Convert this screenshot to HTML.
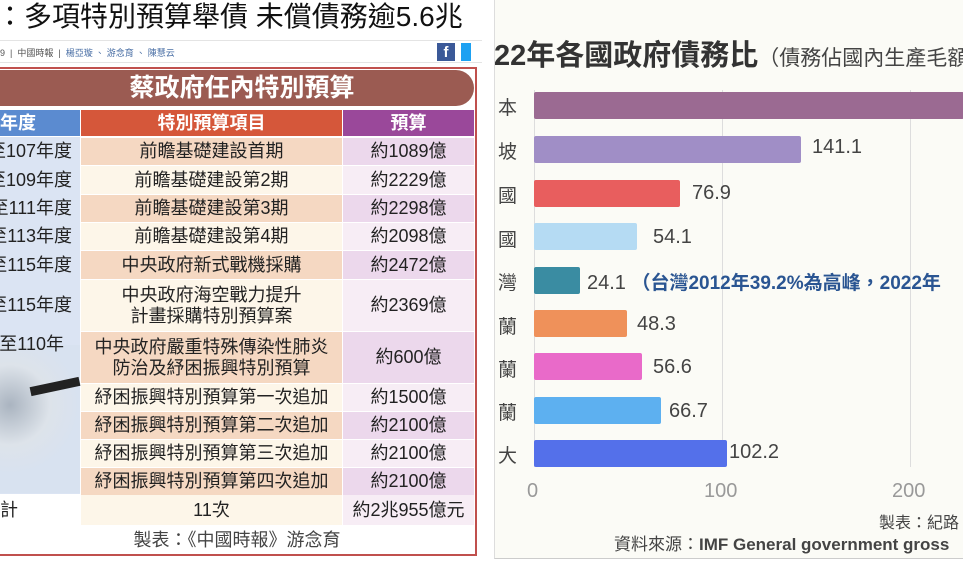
<!DOCTYPE html>
<html><head><meta charset="utf-8"><style>
*{margin:0;padding:0;box-sizing:border-box}
body{width:963px;height:578px;background:#fff;position:relative;overflow:hidden;font-family:"Liberation Sans","Noto Sans CJK TC",sans-serif;color:#222}
.a{position:absolute}
.c{position:absolute;display:flex;align-items:center;justify-content:center;text-align:center;font-size:18px;line-height:21px;color:#222;white-space:nowrap;overflow:hidden}
.lab{position:absolute;font-size:19px;color:#444;left:498px;width:24px}
.bar{position:absolute;left:534px;height:27px;border-radius:2px}
.val{position:absolute;font-size:20px;color:#444}
</style></head><body>
<div class="a" style="left:-4px;top:0;font-size:28px;white-space:nowrap;color:#111;line-height:34px">：多項特別預算舉債 未償債務逾5.6兆</div>
<div class="a" style="left:0;top:40px;width:482px;height:1px;background:#e4e4e4"></div>
<div class="a" style="left:0;top:46px;font-size:9px;color:#555;white-space:nowrap">9 &nbsp;|&nbsp; 中國時報 &nbsp;|&nbsp; <span style="color:#4a6fa5">楊亞璇 、 游念育 、 陳慧云</span></div>
<div class="a" style="left:437px;top:43px;width:18px;height:18px;background:#3b5998;color:#fff;font-size:15px;font-weight:bold;text-align:center;line-height:20px">f</div>
<div class="a" style="left:461px;top:43px;width:10px;height:18px;background:#1da1f2"></div>
<div class="a" style="left:0;top:62px;width:482px;height:1px;background:#e4e4e4"></div>
<div class="a" style="left:0;top:67px;width:477px;height:489px;border:2px solid #c0504d;border-left:none"></div>
<div class="a" style="left:0;top:70px;width:474px;height:36px;background:#9b5b52;border-radius:0 18px 18px 0;color:#fff;font-size:25px;font-weight:bold;text-align:center;line-height:36px;padding-left:10px">蔡政府任內特別預算</div>
<div class="c" style="left:0;top:110px;width:80px;height:26px;background:#5b8bd0;color:#fff;font-weight:bold;justify-content:flex-start;padding-left:0">年度</div>
<div class="c" style="left:81px;top:110px;width:261px;height:26px;background:#d5573a;color:#fff;font-weight:bold">特別預算項目</div>
<div class="c" style="left:343px;top:110px;width:131px;height:26px;background:#9a489a;color:#fff;font-weight:bold">預算</div>
<div class="a" style="left:0;top:137px;width:80px;height:357px;background:#dbe4f3"></div>
<div class="a" style="left:0;top:345px;width:80px;height:148px;background:radial-gradient(circle at 10px 60px,#aab4c0 0,#dde3ea 40px,#d8e2f0 70px)"></div>
<div class="a" style="left:30px;top:382px;width:50px;height:9px;background:#222;transform:rotate(-12deg)"></div>
<div id="rows"></div>
<div class="c" style="left:0;top:526px;width:474px;height:28px;color:#444">製表：《中國時報》游念育</div>
<div class="a" style="left:494px;top:0;width:469px;height:559px;background:#fbfbf6;border-left:1px solid #ddd;border-bottom:1px solid #ccc"></div>
<div class="a" style="left:494px;top:32px;white-space:nowrap;font-size:29px;font-weight:bold;color:#333">22年各國政府債務比<span style="font-size:21px;font-weight:normal;color:#444">（債務佔國內生產毛額</span></div>
<div class="a" style="left:534px;top:90px;width:1px;height:377px;background:#ddd"></div>
<div class="a" style="left:722px;top:90px;width:1px;height:377px;background:#ddd"></div>
<div class="a" style="left:910px;top:90px;width:1px;height:377px;background:#ddd"></div>
<div class="bar" style="top:92px;width:430px;background:#9b6a92"></div>
<div class="bar" style="top:136px;width:267px;background:#a08ec6"></div>
<div class="bar" style="top:180px;width:146px;background:#e85e5e"></div>
<div class="bar" style="top:223px;width:103px;background:#b5dbf3"></div>
<div class="bar" style="top:267px;width:46px;background:#3a8ca2"></div>
<div class="bar" style="top:310px;width:93px;background:#ef915a"></div>
<div class="bar" style="top:353px;width:108px;background:#e96ac9"></div>
<div class="bar" style="top:397px;width:127px;background:#5db0f0"></div>
<div class="bar" style="top:440px;width:193px;background:#5470ea"></div>
<div class="lab" style="top:93px">本</div>
<div class="lab" style="top:137px">坡</div>
<div class="lab" style="top:181px">國</div>
<div class="lab" style="top:225px">國</div>
<div class="lab" style="top:268px">灣</div>
<div class="lab" style="top:312px">蘭</div>
<div class="lab" style="top:355px">蘭</div>
<div class="lab" style="top:398px">蘭</div>
<div class="lab" style="top:441px">大</div>
<div class="val" style="left:812px;top:136px">141.1</div>
<div class="val" style="left:692px;top:182px">76.9</div>
<div class="val" style="left:653px;top:226px">54.1</div>
<div class="val" style="left:587px;top:268px;white-space:nowrap">24.1 <b style="color:#2a5592;font-size:19px">（台灣2012年39.2%為高峰，2022年</b></div>
<div class="val" style="left:637px;top:313px">48.3</div>
<div class="val" style="left:653px;top:356px">56.6</div>
<div class="val" style="left:669px;top:400px">66.7</div>
<div class="val" style="left:729px;top:441px">102.2</div>
<div class="a" style="left:527px;top:480px;font-size:20px;color:#999">0</div>
<div class="a" style="left:704px;top:480px;font-size:20px;color:#999">100</div>
<div class="a" style="left:892px;top:480px;font-size:20px;color:#999">200</div>
<div class="a" style="left:879px;top:509px;font-size:16px;color:#444;white-space:nowrap">製表：紀路</div>
<div class="a" style="left:614px;top:530px;font-size:17px;color:#444;white-space:nowrap">資料來源：<b>IMF General government gross</b></div>
<script>
var rows=[
[138,27,"至107年度","前瞻基礎建設首期","約1089億",1],
[166,28,"至109年度","前瞻基礎建設第2期","約2229億",0],
[195,27,"至111年度","前瞻基礎建設第3期","約2298億",1],
[223,27,"至113年度","前瞻基礎建設第4期","約2098億",0],
[251,28,"至115年度","中央政府新式戰機採購","約2472億",1],
[280,51,"至115年度","中央政府海空戰力提升<br>計畫採購特別預算案","約2369億",0],
[332,51,"至110年","中央政府嚴重特殊傳染性肺炎<br>防治及紓困振興特別預算","約600億",1],
[384,27,"","紓困振興特別預算第一次追加","約1500億",0],
[412,27,"","紓困振興特別預算第二次追加","約2100億",1],
[440,27,"","紓困振興特別預算第三次追加","約2100億",0],
[468,27,"","紓困振興特別預算第四次追加","約2100億",1],
[495,30,"計","11次","約2兆955億元",0]];
var h="";
rows.forEach(function(r){
var b2=r[5]?"#f5d8c2":"#fdf6e9",b3=r[5]?"#ecd8ec":"#f7edf5";
if(r[2]){
 if(r[2]=="計") h+='<div class="c" style="left:0;top:'+r[0]+'px;width:80px;height:'+r[1]+'px;justify-content:flex-start;background:#fff">計</div>';
 else if(r[2]=="至110年") h+='<div class="c" style="left:0;top:'+r[0]+'px;width:80px;height:44px;justify-content:flex-end;padding-right:16px;align-items:flex-start;padding-top:2px"><span style="margin-left:-20px">至110年</span></div>';
 else h+='<div class="c" style="left:0;top:'+r[0]+'px;width:80px;height:'+r[1]+'px;justify-content:flex-end;padding-right:8px">'+r[2]+'</div>';
}
h+='<div class="c" style="left:81px;top:'+r[0]+'px;width:261px;height:'+r[1]+'px;background:'+b2+'">'+r[3]+'</div>';
h+='<div class="c" style="left:343px;top:'+r[0]+'px;width:131px;height:'+r[1]+'px;background:'+b3+'">'+r[4]+'</div>';
});
document.getElementById("rows").innerHTML=h;
</script>
</body></html>
